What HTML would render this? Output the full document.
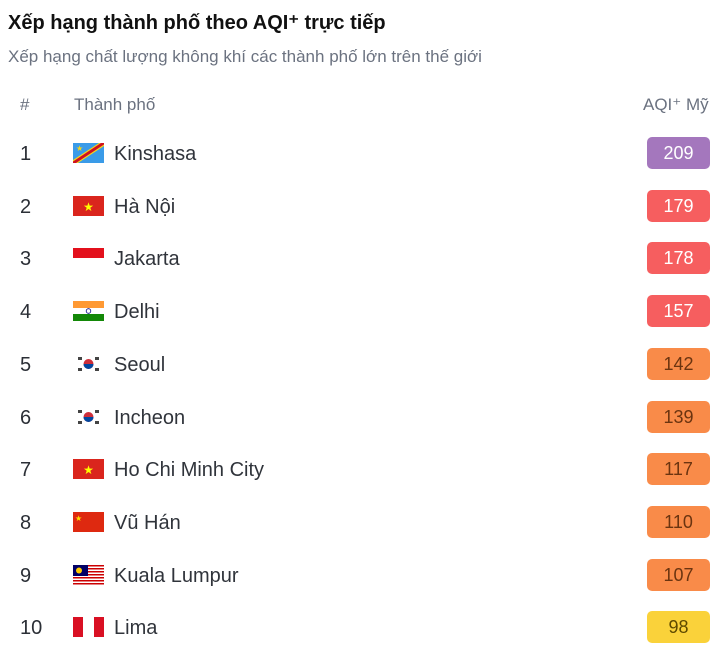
<!DOCTYPE html>
<html><head><meta charset="utf-8"><style>
body{margin:0;width:720px;height:663px;background:#fff;font-family:"Liberation Sans",sans-serif;position:relative;overflow:hidden;color:#2b2f36}
.a{position:absolute;white-space:nowrap}
#title{left:8px;top:10px;font-size:20px;font-weight:bold;color:#111}
#sub{left:8px;top:47px;font-size:17px;color:#6b7280}
.hd{top:95px;font-size:17px;color:#6b7280}
.rk{font-size:20px;left:20px}
.nm{font-size:20px;left:114px;color:#30343b}
.fl{left:73px;width:31px;height:20px}
.bd{left:647px;width:63px;height:32px;border-radius:5px;font-size:18px;text-align:center;line-height:32px}
</style></head><body>
<div class="a" id="title">Xếp hạng thành phố theo AQI⁺ trực tiếp</div>
<div class="a" id="sub">Xếp hạng chất lượng không khí các thành phố lớn trên thế giới</div>
<div class="a hd" style="left:20px">#</div>
<div class="a hd" style="left:74px">Thành phố</div>
<div class="a hd" style="left:643px">AQI⁺ Mỹ</div>
<div id="rows"></div>
<script>
const cities=["Kinshasa","Hà Nội","Jakarta","Delhi","Seoul","Incheon","Ho Chi Minh City","Vũ Hán","Kuala Lumpur","Lima"];
const countries=["cd","vn","id","in","kr","kr","vn","cn","my","pe"];
const aqiValues=[209,179,178,157,142,139,117,110,107,98];
const flags={
cd:'<svg width="31" height="20" viewBox="0 0 31 20"><rect width="31" height="20" fill="#3a9be8"/><polygon points="0,17 26,0 31,0 31,3 5,20 0,20" fill="#f7d618"/><polygon points="0,18.5 28,0 31,0 31,1.5 3,20 0,20" fill="#ce1021"/><text x="3" y="8" font-size="8" fill="#f7d618">★</text></svg>',
vn:'<svg width="31" height="20"><rect width="31" height="20" fill="#da251d"/><text x="15.5" y="15" font-size="12" text-anchor="middle" fill="#ff0">★</text></svg>',
id:'<svg width="31" height="20"><rect width="31" height="10" fill="#e3101c"/><rect y="10" width="31" height="10" fill="#fff"/></svg>',
in:'<svg width="31" height="20"><rect width="31" height="7" fill="#ff9933"/><rect y="7" width="31" height="6" fill="#fff"/><rect y="13" width="31" height="7" fill="#138808"/><circle cx="15.5" cy="10" r="2.3" fill="none" stroke="#000080" stroke-width=".8"/></svg>',
kr:'<svg width="31" height="20"><circle cx="15.5" cy="10" r="5" fill="#cd2e3a"/><path d="M10.5 10a5 5 0 0 0 10 0z" fill="#0047a0"/><g fill="#444"><rect x="5" y="3" width="4" height="3"/><rect x="22" y="3" width="4" height="3"/><rect x="5" y="14" width="4" height="3"/><rect x="22" y="14" width="4" height="3"/></g></svg>',
cn:'<svg width="31" height="20"><rect width="31" height="20" fill="#de2910"/><text x="2" y="9" font-size="8" fill="#ffde00">★</text></svg>',
my:'<svg width="31" height="20"><rect width="31" height="20" fill="#fff"/><g fill="#cc0001"><rect y="0" width="31" height="1.5"/><rect y="3" width="31" height="1.5"/><rect y="6" width="31" height="1.5"/><rect y="9" width="31" height="1.5"/><rect y="12" width="31" height="1.5"/><rect y="15" width="31" height="1.5"/><rect y="18" width="31" height="1.5"/></g><rect width="15" height="11" fill="#010066"/><circle cx="6" cy="5.5" r="3" fill="#fc0"/></svg>',
pe:'<svg width="31" height="20"><rect width="31" height="20" fill="#fff"/><rect width="10" height="20" fill="#d91023"/><rect x="21" width="10" height="20" fill="#d91023"/></svg>'
};
function style(v){
 if(v>200) return ["#a477bd","#fff"];
 if(v>150) return ["#f65e5f","#fff"];
 if(v>100) return ["#f98b49","#6b3410"];
 return ["#fad23a","#5e4a00"];
}
function rowY(i){return 153+i*52.7;}
const root=document.getElementById('rows');
cities.forEach((c,i)=>{
 const y=rowY(i);
 const r=document.createElement('div');
 
 
 const rk=document.createElement('div');rk.className='a rk';rk.style.top=(y-10)+'px';rk.textContent=i+1;
 
 
 const fl=document.createElement('div');fl.className='a fl';fl.style.top=(y-10)+'px';fl.innerHTML=flags[countries[i]];
 
 
 const nm=document.createElement('div');nm.className='a nm';nm.style.top=(y-10)+'px';nm.textContent=c;
 
 
 const [bg,fg]=style(aqiValues[i]);
 const bd=document.createElement('div');bd.className='a bd';bd.style.top=(y-16)+'px';bd.style.background=bg;bd.style.color=fg;bd.textContent=aqiValues[i];
 
 
 r.append(rk,fl,nm,bd);root.appendChild(r);
});
</script>
</body></html>
